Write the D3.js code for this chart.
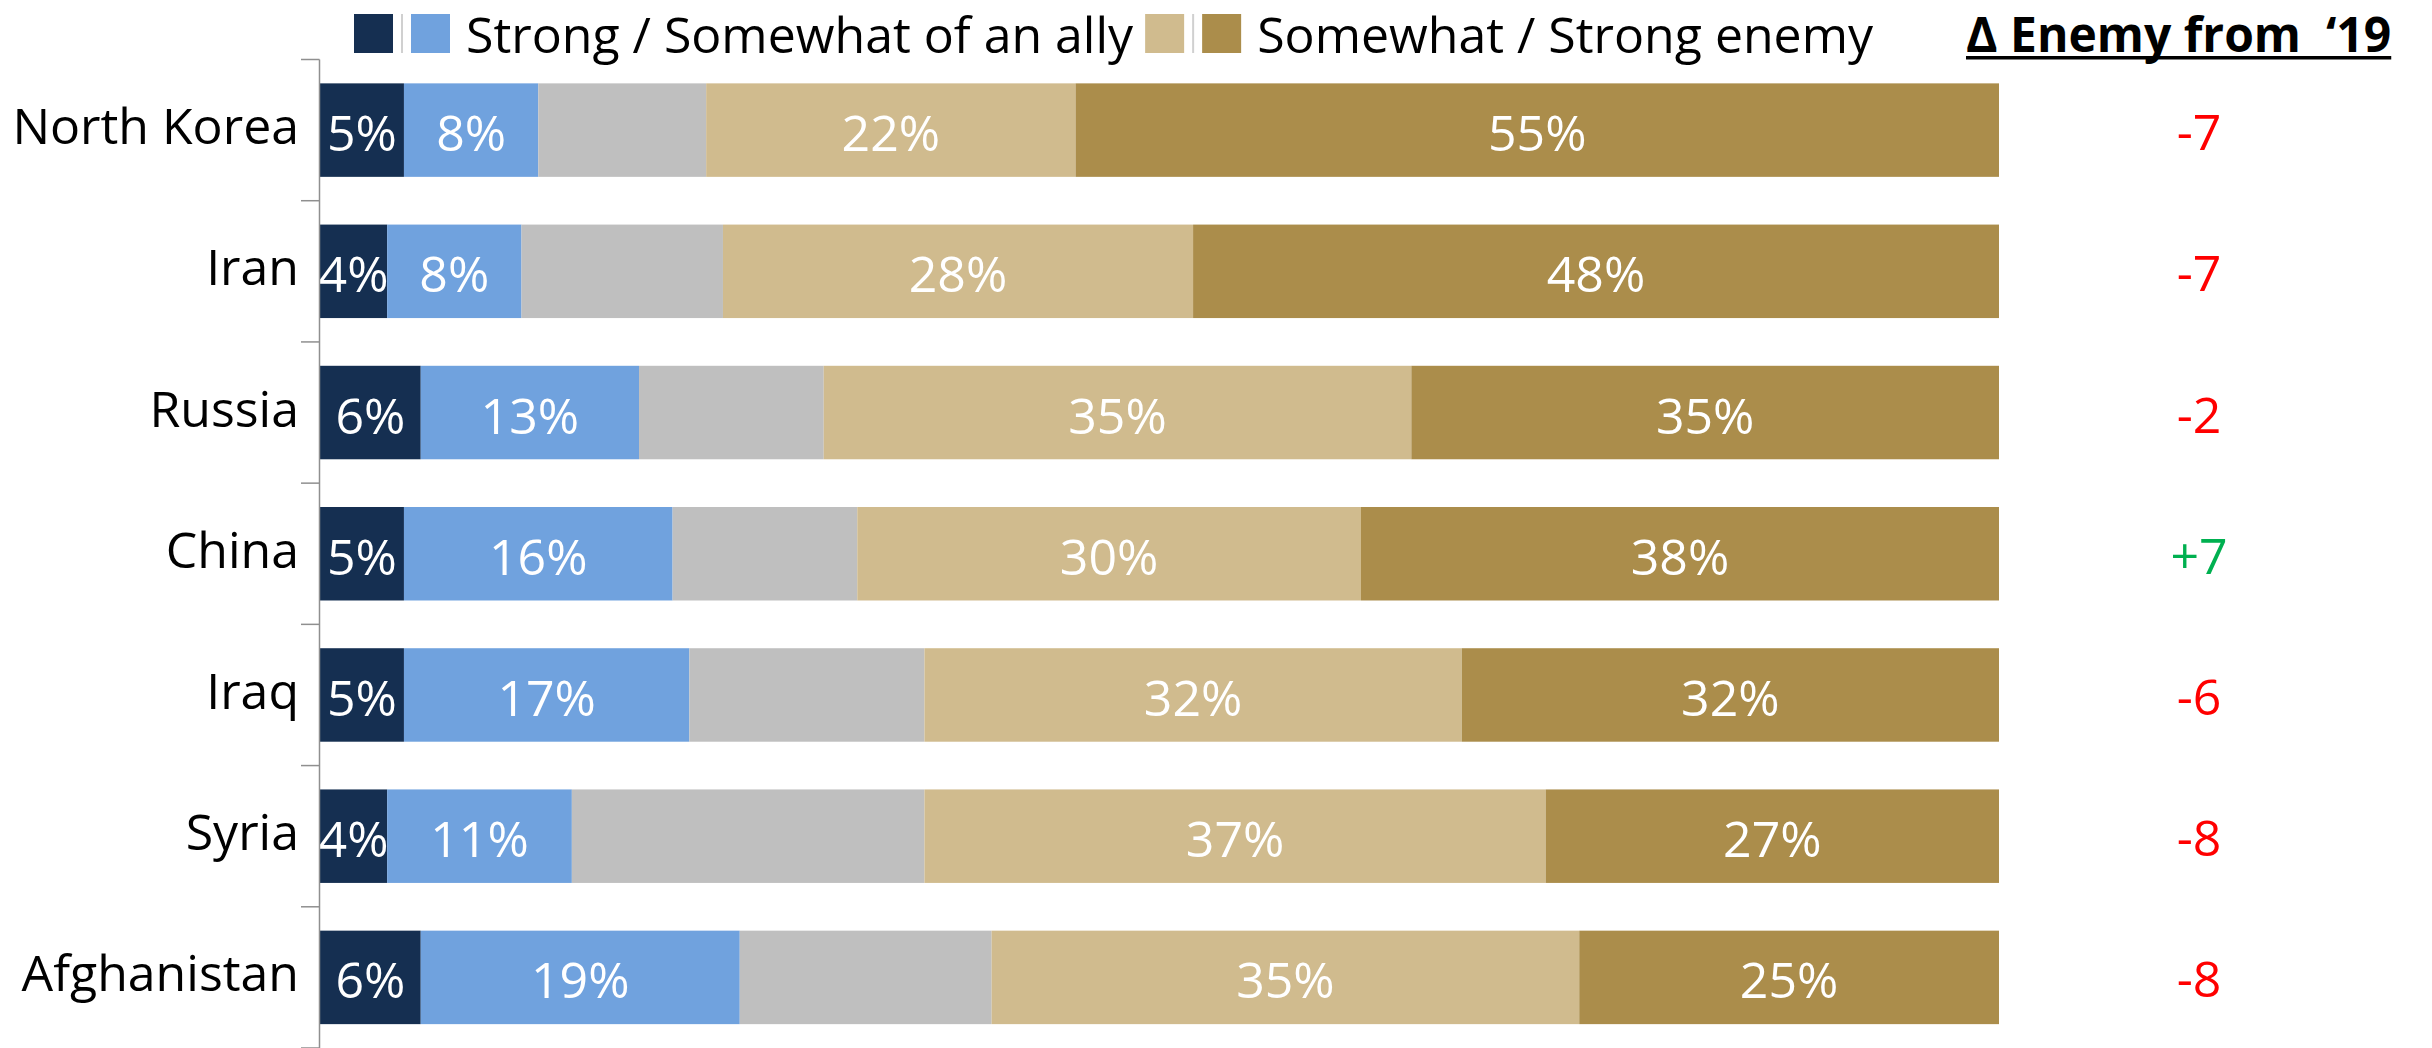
<!DOCTYPE html>
<html>
<head>
<meta charset="utf-8">
<script src="https://cdn.jsdelivr.net/npm/d3@7"></script>
<style>
  html, body { margin: 0; padding: 0; background: #ffffff; }
  svg { display: block; }
  text { font-family: "Open Sans", "Noto Sans", sans-serif; }
</style>
</head>
<body>
<svg id="chart" width="2432" height="1048"></svg>
<script>
// ---- data ----
const categories = ["North Korea", "Iran", "Russia", "China", "Iraq", "Syria", "Afghanistan"];
const strongAlly    = [5, 4, 6, 5, 5, 4, 6];
const somewhatAlly  = [8, 8, 13, 16, 17, 11, 19];
const neutral       = [10, 12, 11, 11, 14, 21, 15];
const somewhatEnemy = [22, 28, 35, 30, 32, 37, 35];
const strongEnemy   = [55, 48, 35, 38, 32, 27, 25];
const enemyChange   = ["-7", "-7", "-2", "+7", "-6", "-8", "-8"];
const seriesKeys    = ["strongAlly", "somewhatAlly", "neutral", "somewhatEnemy", "strongEnemy"];
const seriesColors  = ["#152F51", "#70A2DE", "#BFBFBF", "#D0BB8E", "#AB8D4B"];
const showLabel     = [true, true, false, true, true];
const legendLabels  = ["", "", "Strong / Somewhat of an ally", "", "", "Somewhat / Strong enemy"];
const legendColors  = ["#152F51", "#D0D0D0", "#70A2DE", "#D0BB8E", "#D0D0D0", "#AB8D4B"];
const legendSliver  = [false, true, false, false, true, false];
const changeTitle   = "Δ Enemy from  \u201819";

// ---- build table ----
const table = categories.map((c, i) => ({
  category: c,
  strongAlly: strongAlly[i],
  somewhatAlly: somewhatAlly[i],
  neutral: neutral[i],
  somewhatEnemy: somewhatEnemy[i],
  strongEnemy: strongEnemy[i],
  change: enemyChange[i]
}));

const svg = d3.select("#chart");
const fontSize = 50;

const x = d3.scaleLinear().domain([0, 100]).range([320, 1999]);
const y = d3.scaleBand().domain(categories).range([59.5, 1048]).paddingInner(0.338).paddingOuter(0.169);

const stacked = d3.stack().keys(seriesKeys)(table);

// bars
const layers = svg.append("g").selectAll("g")
  .data(stacked).join("g")
  .attr("fill", (d, i) => seriesColors[i]);

layers.selectAll("rect")
  .data(d => d)
  .join("rect")
  .attr("x", d => x(d[0]))
  .attr("y", d => y(d.data.category))
  .attr("width", d => x(d[1]) - x(d[0]))
  .attr("height", y.bandwidth());

// segment labels
layers.each(function(layer, li) {
  if (!showLabel[li]) return;
  d3.select(this).selectAll("text")
    .data(layer)
    .join("text")
    .attr("x", d => (x(d[0]) + x(d[1])) / 2)
    .attr("y", d => y(d.data.category) + y.bandwidth() / 2 + 21)
    .attr("text-anchor", "middle")
    .attr("fill", "#ffffff")
    .attr("font-size", fontSize)
    .text(d => (d[1] - d[0]) + "%");
});

// axis line + ticks at band boundaries
const axisG = svg.append("g").attr("stroke", "#8f8f8f").attr("stroke-width", 1.5);
axisG.append("line")
  .attr("x1", x(0) - 0.5).attr("x2", x(0) - 0.5)
  .attr("y1", y.range()[0]).attr("y2", y.range()[1]);
const boundaries = d3.range(categories.length + 1).map(i => y.range()[0] + i * y.step());
axisG.selectAll("line.tick")
  .data(boundaries).join("line").attr("class", "tick")
  .attr("x1", x(0) - 19).attr("x2", x(0) - 0.5)
  .attr("y1", d => d).attr("y2", d => d);

// category labels
svg.append("g").selectAll("text")
  .data(table).join("text")
  .attr("x", x(0) - 21)
  .attr("y", d => y(d.category) + y.bandwidth() / 2 + 14)
  .attr("text-anchor", "end")
  .attr("fill", "#000000")
  .attr("font-size", fontSize)
  .text(d => d.category);

// change column
const changeX = 2199;
svg.append("g").selectAll("text")
  .data(table).join("text")
  .attr("x", changeX)
  .attr("y", d => y(d.category) + y.bandwidth() / 2 + 20)
  .attr("text-anchor", "middle")
  .attr("fill", d => d.change.startsWith("+") ? "#00B050" : "#FF0000")
  .attr("font-size", fontSize)
  .text(d => d.change);

const titleX = 1966;
const title = svg.append("text")
  .attr("x", titleX).attr("y", 52)
  .attr("font-size", 48)
  .attr("font-weight", "bold")
  .attr("fill", "#000")
  .attr("xml:space", "preserve")
  .style("white-space", "pre")
  .text(changeTitle);
let tw = title.node().getComputedTextLength();
const maxW = 2422 - titleX;
if (tw > maxW) { title.attr("textLength", maxW).attr("lengthAdjust", "spacingAndGlyphs"); tw = maxW; }
svg.append("rect").attr("x", titleX).attr("y", 56).attr("width", tw).attr("height", 3.5).attr("fill", "#000");

// legend
const legend = svg.append("g");
let lx = 354;
const sq = 39, ly = 14;
legendColors.forEach((c, i) => {
  if (legendSliver[i]) {
    legend.append("rect").attr("x", lx - 1).attr("y", ly).attr("width", 2).attr("height", sq).attr("fill", c);
    lx += 9;
    return;
  }
  legend.append("rect").attr("x", lx).attr("y", ly).attr("width", sq).attr("height", sq).attr("fill", c);
  lx += sq;
  if (legendLabels[i]) {
    lx += 16;
    const t = legend.append("text").attr("x", lx).attr("y", ly + sq).attr("font-size", fontSize).attr("fill", "#000").text(legendLabels[i]);
    lx += t.node().getComputedTextLength() + 12;
  } else {
    lx += 9;
  }
});
</script>
</body>
</html>
